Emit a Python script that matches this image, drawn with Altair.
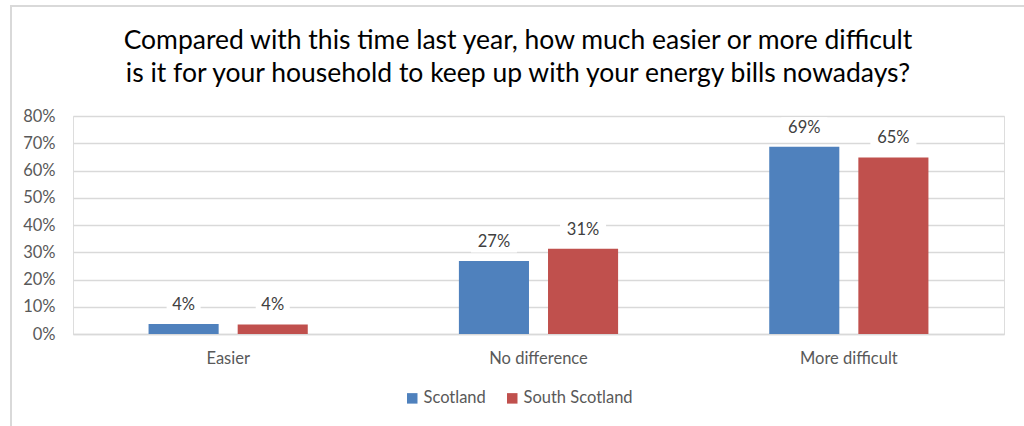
import altair as alt
import pandas as pd

categories = ["Easier", "No difference", "More difficult"]
series = ["Scotland", "South Scotland"]
scotland = [0.037, 0.268, 0.687]
south_scotland = [0.035, 0.313, 0.648]
title_lines = [
    "Compared with this time last year, how much easier or more difficult",
    "is it for your household to keep up with your energy bills nowadays?",
]
y_ticks = [0, 0.1, 0.2, 0.3, 0.4, 0.5, 0.6, 0.7, 0.8]
colors = ["#4F81BD", "#C0504D"]

rows = []
for i, c in enumerate(categories):
    rows.append({"category": c, "series": series[0], "value": scotland[i]})
    rows.append({"category": c, "series": series[1], "value": south_scotland[i]})
df = pd.DataFrame(rows)

FONT = "Lato"

base = alt.Chart(df).transform_calculate(
    label="format(datum.value, '.0%')"
).encode(
    x=alt.X(
        "category:N",
        sort=categories,
        title=None,
        scale=alt.Scale(paddingInner=0.487, paddingOuter=0.2435),
        axis=alt.Axis(
            labelAngle=0,
            ticks=False,
            domain=True,
            domainColor="#D9D9D9",
            domainWidth=1.5,
            labelColor="#595959",
            labelFontSize=16.5,
            labelFont=FONT,
            labelPadding=16,
            grid=False,
        ),
    ),
    xOffset=alt.XOffset(
        "series:N", sort=series, scale=alt.Scale(paddingInner=0.2135, paddingOuter=0)
    ),
    y=alt.Y(
        "value:Q",
        title=None,
        scale=alt.Scale(domain=[0, 0.8], nice=False),
        axis=alt.Axis(
            values=y_ticks,
            format=".0%",
            ticks=False,
            domain=False,
            gridColor="#D9D9D9",
            gridWidth=1.5,
            labelColor="#595959",
            labelFontSize=16.5,
            labelFont=FONT,
            labelPadding=18,
            labelOverlap=False,
        ),
    ),
)

bars = base.mark_bar().encode(
    color=alt.Color(
        "series:N",
        sort=series,
        scale=alt.Scale(domain=series, range=colors),
        legend=alt.Legend(
            title=None,
            orient="none",
            legendX=331,
            legendY=274,
            direction="horizontal",
            symbolType="square",
            symbolSize=110,
            symbolStrokeWidth=0,
            labelFontSize=16.5,
            labelFont=FONT,
            labelColor="#595959",
            labelOffset=3,
            columnPadding=18,
            padding=0,
        ),
    ),
)

box_short = base.transform_filter("length(datum.label) <= 2").mark_point(
    shape="M-1,-0.62L1,-0.62L1,0.62L-1,0.62Z",
    size=34 * 34,
    filled=True,
    color="white",
    opacity=1,
    yOffset=-19,
)

box_long = base.transform_filter("length(datum.label) > 2").mark_point(
    shape="M-1,-0.46L1,-0.46L1,0.46L-1,0.46Z",
    size=46 * 46,
    filled=True,
    color="white",
    opacity=1,
    yOffset=-19,
)

labels = base.mark_text(
    dy=-19, baseline="middle", fontSize=16.5, font=FONT, color="#404040"
).encode(text="label:N")

frame = alt.Chart(pd.DataFrame({"a": [0]})).mark_rect(
    fill="transparent", stroke="#D9D9D9", strokeWidth=2
).encode(
    x=alt.value(-62), x2=alt.value(1100), y=alt.value(-110), y2=alt.value(500)
)

title = alt.Chart(pd.DataFrame({"t": [title_lines]})).mark_text(
    font=FONT,
    fontSize=26.5,
    color="#000000",
    align="center",
    baseline="alphabetic",
    lineHeight=32.5,
).encode(x=alt.value(445), y=alt.value(-66.7), text="t")

chart = alt.layer(frame, title, bars, box_short, box_long, labels).properties(
    width=931,
    height=218,
    autosize=alt.AutoSizeParams(type="none"),
    padding={"left": 73, "top": 116, "right": 20, "bottom": 92},
).configure_view(strokeWidth=0).configure(background="white")

chart.save("out.html", embed_options={"renderer": "svg", "actions": False})
